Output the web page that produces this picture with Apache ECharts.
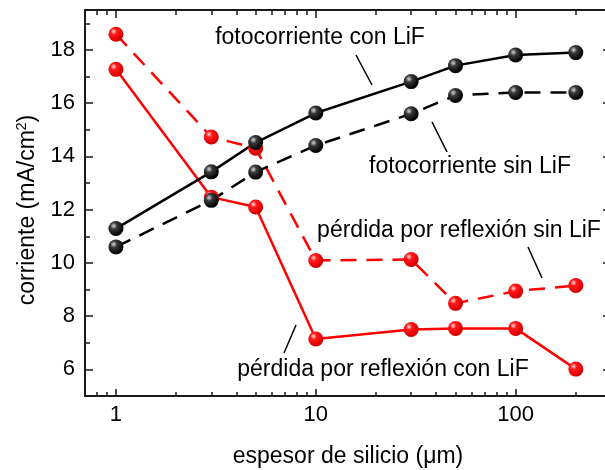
<!DOCTYPE html>
<html>
<head>
<meta charset="utf-8">
<script src="https://cdn.jsdelivr.net/npm/echarts@6/dist/echarts.min.js"></script>
<style>html,body{margin:0;padding:0;background:#fff}#c{width:605px;height:470px}</style>
</head>
<body>
<div id="c"></div>
<script>
// ---- data ----
const thickness = [1, 3, 5, 10, 30, 50, 100, 200];          // µm
const fotoConLiF = [11.29, 13.42, 14.52, 15.63, 16.81, 17.41, 17.81, 17.90];
const fotoSinLiF = [10.60, 12.35, 13.41, 14.41, 15.60, 16.29, 16.40, 16.40];
const perdSinLiF = [18.59, 14.73, 14.31, 10.09, 10.13, 8.48, 8.94, 9.15];
const perdConLiF = [17.27, 12.47, 12.10, 7.14, 7.50, 7.54, 7.54, 6.01];
const xMajorTicks = [1, 10, 100];
const xMinorTicks = [0.8, 0.9, 2, 3, 4, 5, 6, 7, 8, 9, 20, 30, 40, 50, 60, 70, 80, 90, 200];
const yMajorTicks = [6, 8, 10, 12, 14, 16, 18];
const yMinorTicks = [7, 9, 11, 13, 15, 17, 19];

const FONT = 'Liberation Sans, Arial, sans-serif';
const AXC = '#1a1a1a';
const X_MIN = 0.7, X_MAX = 300, Y_MIN = 5, Y_MAX = 19.5;

function pairs(ys) { return thickness.map((x, i) => [x, ys[i]]); }

const redBall = { type: 'radial', x: 0.35, y: 0.32, r: 0.75,
  colorStops: [{offset: 0, color: '#ffe0e0'}, {offset: 0.28, color: '#ff1a1a'}, {offset: 0.8, color: '#e00000'}, {offset: 1, color: '#b00000'}] };
const blackBall = { type: 'radial', x: 0.35, y: 0.32, r: 0.75,
  colorStops: [{offset: 0, color: '#d8d8d8'}, {offset: 0.3, color: '#3a3a3a'}, {offset: 0.8, color: '#080808'}, {offset: 1, color: '#000'}] };

function xAx(pos, ticks, len, labels, line) {
  return {
    type: 'log', position: pos, min: X_MIN, max: X_MAX, logBase: 10,
    axisLine: { show: line, onZero: false, lineStyle: { color: AXC, width: 2 } },
    axisTick: { show: true, inside: true, length: len, customValues: ticks, lineStyle: { color: AXC, width: 1.5 } },
    axisLabel: labels ? { show: true, customValues: xMajorTicks, margin: 8, fontSize: 22, fontFamily: FONT, color: '#000' } : { show: false },
    splitLine: { show: false }, minorTick: { show: false }
  };
}
function yAx(pos, ticks, len, labels, line) {
  return {
    type: 'value', position: pos, min: Y_MIN, max: Y_MAX,
    axisLine: { show: line, onZero: false, lineStyle: { color: AXC, width: 2 } },
    axisTick: { show: true, inside: true, length: len, customValues: ticks, lineStyle: { color: AXC, width: 1.5 } },
    axisLabel: labels ? { show: true, customValues: yMajorTicks, margin: 10, fontSize: 22, fontFamily: FONT, color: '#000' } : { show: false },
    splitLine: { show: false }
  };
}

const xAxes = [
  Object.assign(xAx('bottom', xMajorTicks, 7, true, true), {
    name: 'espesor de silicio (\u03bcm)', nameLocation: 'middle', nameGap: 49,
    nameTextStyle: { fontSize: 23, fontFamily: FONT, color: '#000' } }),
  xAx('bottom', xMinorTicks, 4, false, false),
  xAx('top', xMajorTicks, 8, false, true),
  xAx('top', xMinorTicks, 5, false, false)
];
const yAxes = [
  yAx('left', yMajorTicks, 8, true, true),
  yAx('left', yMinorTicks, 5, false, false),
  yAx('right', yMajorTicks, 8, false, true),
  yAx('right', yMinorTicks, 5, false, false)
];

function line(name, ys, color, ball, dashed) {
  return {
    name, type: 'line', xAxisIndex: 0, yAxisIndex: 0, data: pairs(ys),
    symbol: 'circle', symbolSize: 15, showSymbol: true,
    lineStyle: { color, width: 2.5, type: dashed ? [16, 10] : 'solid' },
    itemStyle: { color: ball, borderWidth: 0 },
    emphasis: { disabled: true }
  };
}

function label(text, x, y) {
  return { type: 'text', x, y, z: 100,
    style: { text, fontSize: 23, fontFamily: FONT, fill: '#000', align: 'center', verticalAlign: 'middle' } };
}
function leader(x1, y1, x2, y2) {
  return { type: 'line', z: 100, shape: { x1, y1, x2, y2 }, style: { stroke: '#000', lineWidth: 1.5 } };
}

const chart = echarts.init(document.getElementById('c'), null, { renderer: 'canvas' });
chart.setOption({
  animation: false,
  backgroundColor: '#fff',
  grid: { left: 85, top: 10, width: 526, height: 386, containLabel: false, outerBoundsMode: 'none' },
  xAxis: xAxes,
  yAxis: yAxes,
  series: [
    line('pérdida por reflexión sin LiF', perdSinLiF, '#ff0000', redBall, true),
    line('pérdida por reflexión con LiF', perdConLiF, '#ff0000', redBall, false),
    line('fotocorriente sin LiF', fotoSinLiF, '#000000', blackBall, true),
    line('fotocorriente con LiF', fotoConLiF, '#000000', blackBall, false)
  ],
  graphic: [
    label('fotocorriente con LiF', 320, 38),
    label('fotocorriente sin LiF', 470, 167),
    label('pérdida por reflexión sin LiF', 459, 231),
    label('pérdida por reflexión con LiF', 383, 370),
    leader(356, 55, 372, 85),
    leader(432, 122, 447, 152),
    leader(528, 247, 542, 278),
    leader(296, 325, 284, 353),
    { type: 'text', x: 28, y: 210, rotation: Math.PI / 2, z: 100,
      style: { text: '{a|corriente (mA/cm}{s|2}{a|)}', align: 'center', verticalAlign: 'middle',
        rich: { a: { fontSize: 23, fontFamily: FONT, fill: '#000', lineHeight: 26 },
                s: { fontSize: 14, fontFamily: FONT, fill: '#000', lineHeight: 14, verticalAlign: 'top' } } } }
  ]
});
</script>
</body>
</html>
